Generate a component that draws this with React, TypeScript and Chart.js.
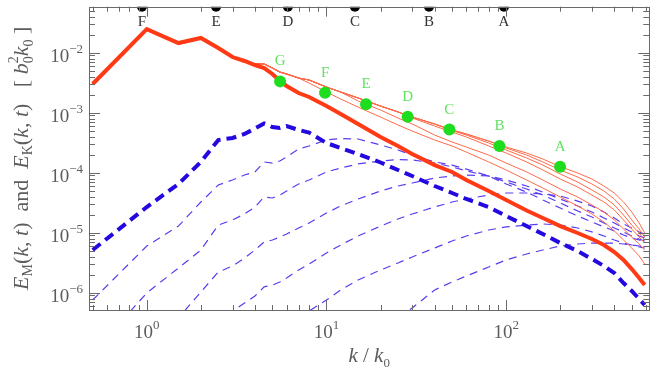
import React, { useEffect, useRef } from "react";
import { Chart, registerables } from "chart.js";

Chart.register(...registerables);

// ---------- data ----------
const K = [0.5, 1, 1.5, 2, 2.5, 3, 3.5, 4, 4.5, 5, 5.5, 6, 7, 8, 10, 12, 15, 20, 25, 30, 40, 50, 60, 80, 100, 130, 160, 200, 250, 300, 350, 400, 450, 500, 550, 590];

// kinetic spectrum, final time (thick red)
const EK_G = [3.01e-3, 2.48e-2, 1.45e-2, 1.76e-2, 1.2e-2, 8.47e-3, 7.28e-3, 6.24e-3, 5.56e-3, 4.42e-3, 3.37e-3, 2.79e-3, 2.13e-3, 1.83e-3, 1.29e-3, 9.5e-4, 6.49e-4, 3.94e-4, 2.79e-4, 2.05e-4, 1.34e-4, 1.03e-4, 7.55e-5, 4.95e-5, 3.51e-5, 2.34e-5, 1.76e-5, 1.29e-5, 9.89e-6, 7.85e-6, 6.24e-6, 4.76e-6, 3.51e-6, 2.48e-6, 1.76e-6, 1.34e-6];

// earlier kinetic spectra (thin red), k = 0.5 ... 3.5
const EK_LOWK = [3.01e-3, 2.48e-2, 1.4e-2, 1.7e-2, 1.16e-2, 8.2e-3, 7.1e-3];
// upper envelope, k = 4 ... 590
const EK_ENV = [6.49e-3, 6.49e-3, 5.56e-3, 4.76e-3, 4.42e-3, 3.78e-3, 3.51e-3, 2.68e-3, 2.21e-3, 1.76e-3, 1.29e-3, 1.03e-3, 8.47e-4, 6.49e-4, 5.15e-4, 4.42e-4, 3.37e-4, 2.68e-4, 2.13e-4, 1.69e-4, 1.26e-4, 9.89e-5, 7.85e-5, 6.0e-5, 4.59e-5, 3.25e-5, 2.21e-5, 1.45e-5, 9.89e-6];
const EK_B_TAIL = [2.58e-4, 1.97e-4, 1.51e-4, 1.11e-4, 8.47e-5, 6.49e-5, 4.95e-5, 3.65e-5, 2.48e-5, 1.63e-5, 1.15e-5, 8.47e-6];
const EK_C_TAIL = [5.05e-4, 4.25e-4, 3.13e-4, 2.39e-4, 1.76e-4, 1.34e-4, 9.5e-5, 7.0e-5, 5.15e-5, 3.94e-5, 2.9e-5, 1.97e-5, 1.34e-5, 9.89e-6, 7.55e-6];
const EK_D_TAIL = [8.17e-4, 6.0e-4, 4.76e-4, 3.94e-4, 2.79e-4, 2.13e-4, 1.51e-4, 1.11e-4, 7.85e-5, 5.78e-5, 4.25e-5, 3.25e-5, 2.39e-5, 1.63e-5, 1.15e-5, 8.47e-6, 6.73e-6];
const EK_E_TAIL = [1.57e-3, 1.11e-3, 8.17e-4, 6.49e-4, 4.25e-4, 3.25e-4, 2.68e-4, 1.97e-4, 1.45e-4, 1.03e-4, 7.55e-5, 5.35e-5, 3.94e-5, 2.9e-5, 2.21e-5, 1.63e-5, 1.15e-5, 8.47e-6, 6.49e-6, 5.15e-6];
const EK_F_TAIL = [3.13e-3, 2.21e-3, 1.69e-3, 1.24e-3, 8.47e-4, 6.24e-4, 4.95e-4, 3.51e-4, 2.79e-4, 2.21e-4, 1.51e-4, 1.11e-4, 7.55e-5, 5.56e-5, 3.94e-5, 2.79e-5, 2.05e-5, 1.51e-5, 1.07e-5, 7.55e-6, 5.56e-6, 4.09e-6, 3.01e-6];

const EK_A = [...EK_LOWK, ...EK_ENV];
const EK_B = [...EK_LOWK, ...EK_ENV.slice(0, 17), ...EK_B_TAIL];
const EK_C = [...EK_LOWK, ...EK_ENV.slice(0, 14), ...EK_C_TAIL];
const EK_D = [...EK_LOWK, ...EK_ENV.slice(0, 12), ...EK_D_TAIL];
const EK_E = [...EK_LOWK, ...EK_ENV.slice(0, 9), ...EK_E_TAIL];
const EK_F = [...EK_LOWK, ...EK_ENV.slice(0, 6), ...EK_F_TAIL];

// magnetic spectrum, final time (thick blue dashed)
const EM_G = [5.15e-6, 2.68e-5, 6.49e-5, 1.51e-4, 3.51e-4, 3.79e-4, 4.42e-4, 5.46e-4, 6.61e-4, 5.78e-4, 5.56e-4, 6.0e-4, 5.15e-4, 4.68e-4, 3.13e-4, 2.58e-4, 2.05e-4, 1.48e-4, 1.11e-4, 8.81e-5, 6.0e-5, 4.59e-5, 3.65e-5, 2.68e-5, 1.9e-5, 1.29e-5, 9.5e-6, 6.73e-6, 4.95e-6, 3.65e-6, 2.79e-6, 2.13e-6, 1.45e-6, 1.07e-6, 7.85e-7, 6.24e-7];
// earlier magnetic spectra (thin blue dashed)
const EM_1 = [7.55e-7, 6.0e-6, 1.29e-5, 3.25e-5, 6.24e-5, 7.55e-5, 9.16e-5, 1.03e-4, 1.51e-4, 1.45e-4, 1.57e-4, 1.83e-4, 2.48e-4, 2.79e-4, 3.51e-4, 3.72e-4, 3.65e-4, 2.9e-4, 2.39e-4, 1.97e-4, 1.51e-4, 1.34e-4, 1.15e-4, 8.81e-5, 6.49e-5, 4.76e-5, 3.51e-5, 2.58e-5, 1.9e-5, 1.51e-5, 1.25e-5, 1.07e-5, 9.16e-6, 8.17e-6, 7.55e-6, 7.0e-6];
const EM_2 = [9.89e-8, 9.89e-7, 2.58e-6, 5.15e-6, 1.34e-5, 1.63e-5, 2.05e-5, 2.68e-5, 3.94e-5, 3.79e-5, 4.25e-5, 4.95e-5, 6.49e-5, 7.55e-5, 1.03e-4, 1.2e-4, 1.4e-4, 1.57e-4, 1.66e-4, 1.63e-4, 1.45e-4, 1.25e-4, 1.07e-4, 8.81e-5, 7.0e-5, 5.35e-5, 4.25e-5, 3.13e-5, 2.3e-5, 1.83e-5, 1.45e-5, 1.2e-5, 1.03e-5, 8.81e-6, 7.85e-6, 7.28e-6];
const K_3 = K.slice(1);
const EM_3 = [1.03e-7, 3.78e-7, 1.03e-6, 2.21e-6, 2.79e-6, 3.78e-6, 5.15e-6, 7.0e-6, 7.55e-6, 8.47e-6, 9.5e-6, 1.2e-5, 1.45e-5, 2.13e-5, 2.79e-5, 3.65e-5, 4.95e-5, 6.0e-5, 6.73e-5, 8.17e-5, 8.81e-5, 9.16e-5, 8.81e-5, 7.55e-5, 6.0e-5, 4.76e-5, 3.65e-5, 2.79e-5, 2.21e-5, 1.76e-5, 1.45e-5, 1.2e-5, 1.03e-5, 8.81e-6, 8.17e-6];
const K_4 = K.slice(4);
const EM_4 = [2.79e-7, 4.95e-7, 6.73e-7, 8.81e-7, 1.25e-6, 1.34e-6, 1.51e-6, 1.76e-6, 2.39e-6, 3.01e-6, 4.59e-6, 6.24e-6, 8.81e-6, 1.29e-5, 1.69e-5, 2.05e-5, 2.68e-5, 3.25e-5, 3.65e-5, 4.25e-5, 4.59e-5, 4.59e-5, 4.42e-5, 4.09e-5, 3.37e-5, 2.79e-5, 2.21e-5, 1.76e-5, 1.4e-5, 1.2e-5, 1.03e-5, 9.5e-6];
const K_5 = K.slice(12);
const EM_5 = [3.78e-7, 4.95e-7, 7.55e-7, 1.11e-6, 1.63e-6, 2.39e-6, 3.13e-6, 3.94e-6, 5.56e-6, 7.28e-6, 8.81e-6, 1.11e-5, 1.25e-5, 1.34e-5, 1.4e-5, 1.34e-5, 1.2e-5, 1.03e-5, 8.81e-6, 7.55e-6, 6.73e-6, 6.24e-6, 5.78e-6, 5.56e-6];
const K_6 = K.slice(18);
const EM_6 = [3.94e-7, 5.56e-7, 1.11e-6, 1.51e-6, 1.9e-6, 2.68e-6, 3.51e-6, 4.42e-6, 5.15e-6, 6.0e-6, 6.49e-6, 6.73e-6, 6.73e-6, 6.73e-6, 6.49e-6, 6.24e-6, 6.0e-6, 5.78e-6];

// green markers
const GREEN_LABELS = ["G", "F", "E", "D", "C", "B", "A"];
const GREEN_K = [5.52, 9.82, 16.6, 28.3, 48.3, 91.7, 199.5];
const GREEN_E = [3.33e-3, 2.15e-3, 1.38e-3, 8.58e-4, 5.23e-4, 2.79e-4, 1.26e-4];

// black markers on the top axis
const TOP_LABELS = ["F", "E", "D", "C", "B", "A"];
const TOP_K = [0.94, 2.43, 6.1, 14.4, 37.2, 97.3];

// axis ranges and tick labels
const X_MIN = 0.477;
const X_MAX = 626;
const Y_MIN = 5.15e-7;
const Y_MAX = 0.0585;
const X_TICKS = [1, 10, 100];
const X_TICK_EXP = ["0", "1", "2"];
const Y_TICKS = [1e-6, 1e-5, 1e-4, 1e-3, 1e-2];
const Y_TICK_EXP = ["\u22126", "\u22125", "\u22124", "\u22123", "\u22122"];

// ---------- styling ----------
const SERIF = '"Liberation Serif", "DejaVu Serif", serif';
const GREY = "#5c5c5c";
const FRAME = "#6a6a6a";
const RED_THICK = "#ff3a14";
const RED_THIN = "#ff6a48";
const BLUE_THICK = "#2408e0";
const BLUE_THIN = "#5a3cf0";
const GREEN_PT = "#1edc1e";
const GREEN_TXT = "#62e262";

type Seg = { t: string; size: number; it?: boolean; dy?: number; noAdv?: boolean };

function segFont(s: Seg) {
  return `${s.it ? "italic " : ""}${s.size}px ${SERIF}`;
}

function drawRich(ctx: CanvasRenderingContext2D, segs: Seg[], x: number, y: number, align: "left" | "center" | "right") {
  let w = 0;
  for (const s of segs) {
    ctx.font = segFont(s);
    if (!s.noAdv) w += ctx.measureText(s.t).width;
  }
  let cx = align === "left" ? x : align === "center" ? x - w / 2 : x - w;
  ctx.textAlign = "left";
  ctx.textBaseline = "alphabetic";
  for (const s of segs) {
    ctx.font = segFont(s);
    ctx.fillText(s.t, cx, y + (s.dy || 0));
    if (!s.noAdv) cx += ctx.measureText(s.t).width;
  }
}

const pts = (ks: number[], vs: number[]) => ks.map((k, i) => ({ x: k, y: vs[i] }));

const decorPlugin = {
  id: "decor",
  afterDatasetsDraw(chart: any) {
    const { ctx, chartArea: a, scales } = chart;
    const xs = scales.x;
    const ys = scales.y;
    ctx.save();
    // frame
    ctx.strokeStyle = FRAME;
    ctx.lineWidth = 1;
    ctx.strokeRect(Math.round(a.left) + 0.5, Math.round(a.top) + 0.5, Math.round(a.right - a.left), Math.round(a.bottom - a.top));
    // ticks
    ctx.beginPath();
    for (let e = -1; e <= 3; e++) {
      for (let m = 1; m <= 9; m++) {
        const v = m * Math.pow(10, e);
        if (v < X_MIN || v > X_MAX) continue;
        const px = Math.round(xs.getPixelForValue(v)) + 0.5;
        const len = m === 1 ? 10 : 5;
        ctx.moveTo(px, a.bottom);
        ctx.lineTo(px, a.bottom - len);
        ctx.moveTo(px, a.top);
        ctx.lineTo(px, a.top + len);
      }
    }
    for (let e = -7; e <= -1; e++) {
      for (let m = 1; m <= 9; m++) {
        const v = m * Math.pow(10, e);
        if (v < Y_MIN || v > Y_MAX) continue;
        const py = Math.round(ys.getPixelForValue(v)) + 0.5;
        const len = m === 1 ? 11 : 6;
        ctx.moveTo(a.left, py);
        ctx.lineTo(a.left + len, py);
        ctx.moveTo(a.right, py);
        ctx.lineTo(a.right - len, py);
      }
    }
    ctx.stroke();

    // tick labels
    ctx.fillStyle = GREY;
    X_TICKS.forEach((v, i) => {
      const px = xs.getPixelForValue(v);
      drawRich(ctx, [{ t: "10", size: 19 }, { t: X_TICK_EXP[i], size: 13, dy: -9 }], px, a.bottom + 28, "center");
    });
    Y_TICKS.forEach((v, i) => {
      const py = ys.getPixelForValue(v);
      drawRich(ctx, [{ t: "10", size: 19 }, { t: Y_TICK_EXP[i], size: 13, dy: -9 }], a.left - 6, py + 9, "right");
    });

    // axis titles
    drawRich(
      ctx,
      [
        { t: "k", size: 21, it: true },
        { t: " / ", size: 21 },
        { t: "k", size: 21, it: true },
        { t: "0", size: 13, dy: 5 },
      ],
      (a.left + a.right) / 2,
      a.bottom + 52,
      "center"
    );
    ctx.save();
    ctx.translate(28, (a.top + a.bottom) / 2);
    ctx.rotate(-Math.PI / 2);
    const S = 22;
    const s = 14;
    const kt: Seg[] = [
      { t: "(", size: S },
      { t: "k", size: S, it: true },
      { t: ", ", size: S },
      { t: "t", size: S, it: true },
      { t: ")", size: S },
    ];
    drawRich(
      ctx,
      [
        { t: "E", size: S, it: true },
        { t: "M", size: s, dy: 4 },
        ...kt,
        { t: "  and  ", size: S },
        { t: "E", size: S, it: true },
        { t: "K", size: s, dy: 4 },
        ...kt,
        { t: "   [ ", size: S },
        { t: "b", size: S, it: true },
        { t: "0", size: s, dy: 5, noAdv: true },
        { t: "2", size: s, dy: -10 },
        { t: "k", size: S, it: true },
        { t: "0", size: s, dy: 5 },
        { t: " ]", size: S },
      ],
      0,
      0,
      "center"
    );
    ctx.restore();

    // green labels
    const gMeta = chart.getDatasetMeta(0);
    ctx.fillStyle = GREEN_TXT;
    ctx.font = `15px ${SERIF}`;
    ctx.textAlign = "center";
    ctx.textBaseline = "alphabetic";
    gMeta.data.forEach((p: any, i: number) => {
      ctx.fillText(GREEN_LABELS[i], p.x, p.y - 16);
    });
    // top labels
    const tMeta = chart.getDatasetMeta(1);
    ctx.fillStyle = "#333";
    ctx.font = `15px ${SERIF}`;
    tMeta.data.forEach((p: any, i: number) => {
      ctx.fillText(TOP_LABELS[i], p.x, a.top + 19);
    });
    ctx.restore();
  },
};

export default function App() {
  const ref = useRef<HTMLCanvasElement | null>(null);
  useEffect(() => {
    if (!ref.current) return;
    const thinRed = (vals: number[]) => ({
      data: pts(K, vals),
      showLine: true,
      borderColor: RED_THIN,
      borderWidth: 1,
      pointRadius: 0,
      clip: 0,
    });
    const thinBlue = (ks: number[], vals: number[]) => ({
      data: pts(ks, vals),
      showLine: true,
      borderColor: BLUE_THIN,
      borderWidth: 1.2,
      borderDash: [8, 6],
      pointRadius: 0,
      clip: 0,
    });
    const chart = new Chart(ref.current, {
      type: "scatter",
      data: {
        datasets: [
          {
            data: pts(GREEN_K, GREEN_E),
            pointRadius: 6,
            backgroundColor: GREEN_PT,
            borderWidth: 0,
            showLine: false,
            clip: 0,
          } as any,
          {
            data: TOP_K.map((k) => ({ x: k, y: Y_MAX })),
            pointRadius: 5,
            backgroundColor: "#000",
            borderWidth: 0,
            showLine: false,
            clip: 0,
          },
          {
            data: pts(K, EK_G),
            showLine: true,
            borderColor: RED_THICK,
            borderWidth: 4,
            pointRadius: 0,
            clip: 0,
          },
          {
            data: pts(K, EM_G),
            showLine: true,
            borderColor: BLUE_THICK,
            borderWidth: 4,
            borderDash: [10, 6],
            pointRadius: 0,
            clip: 0,
          },
          thinRed(EK_A),
          thinRed(EK_B),
          thinRed(EK_C),
          thinRed(EK_D),
          thinRed(EK_E),
          thinRed(EK_F),
          thinBlue(K, EM_1),
          thinBlue(K, EM_2),
          thinBlue(K_3, EM_3),
          thinBlue(K_4, EM_4),
          thinBlue(K_5, EM_5),
          thinBlue(K_6, EM_6),
        ] as any,
      },
      options: {
        responsive: false,
        animation: false,
        devicePixelRatio: 1,
        layout: { padding: { left: 89, right: 14.7, top: 6.7, bottom: 59 } },
        elements: { line: { tension: 0 } },
        plugins: { legend: { display: false }, tooltip: { enabled: false } },
        scales: {
          x: { type: "logarithmic", min: X_MIN, max: X_MAX, display: false, bounds: "data" },
          y: { type: "logarithmic", min: Y_MIN, max: Y_MAX, display: false, bounds: "data" },
        },
      } as any,
      plugins: [decorPlugin],
    });
    return () => chart.destroy();
  }, []);
  return (
    <div style={{ position: "fixed", left: 0, top: 0, width: 664, height: 369, background: "#fff" }}>
      <canvas ref={ref} width={664} height={369} style={{ display: "block", width: 664, height: 369 }} />
    </div>
  );
}
